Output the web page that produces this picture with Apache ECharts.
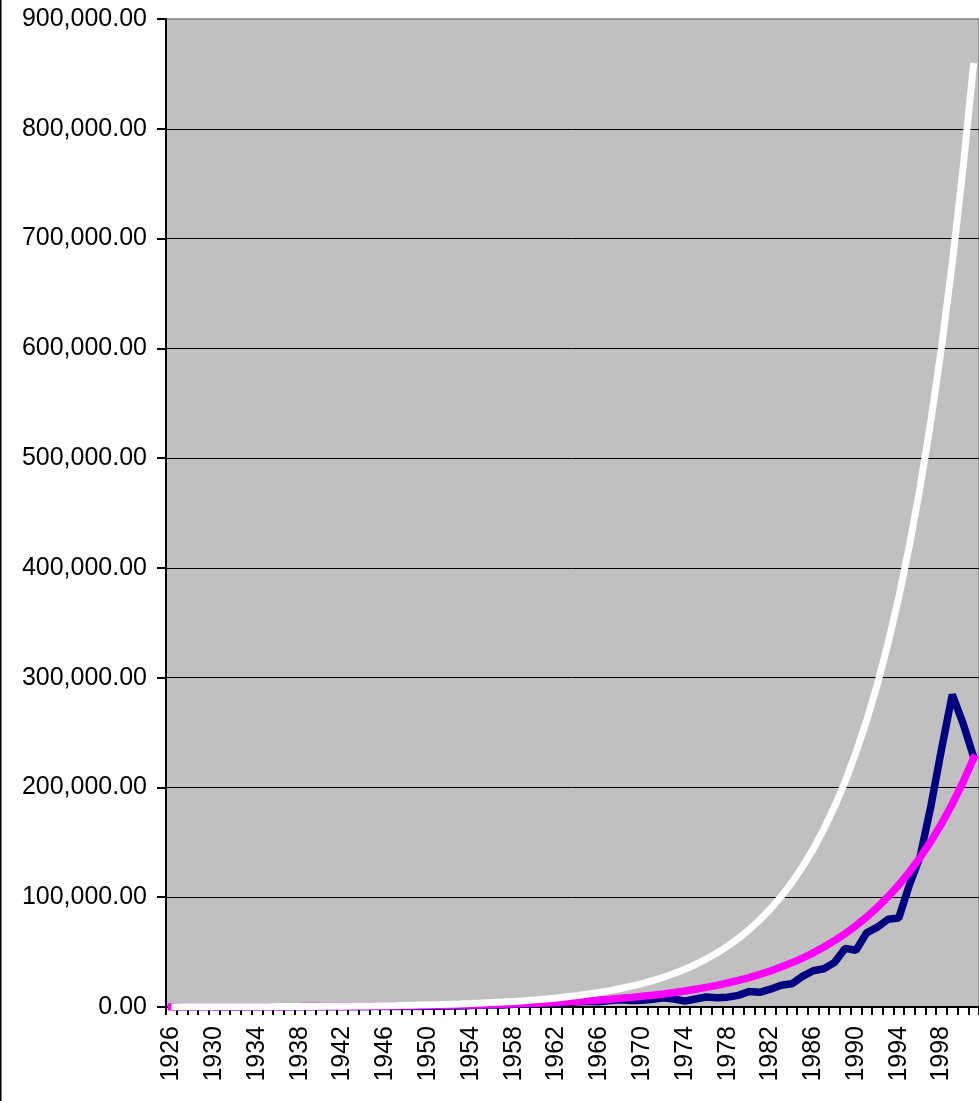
<!DOCTYPE html>
<html>
<head>
<meta charset="utf-8">
<script src="https://cdn.jsdelivr.net/npm/echarts@6/dist/echarts.min.js"></script>
<style>
  html, body { margin: 0; padding: 0; background: #fff; }
  #chart { width: 979px; height: 1101px; }
</style>
</head>
<body>
<div id="chart"></div>
<script>
// Categories: years 1926 .. 2001
const years = [];
for (let y = 1926; y <= 2001; y++) years.push(String(y));

// Actual growth of 100 (navy)
const actualValues = [
  112, 154, 220, 202, 152, 86, 79, 121, 120, 177,
  237, 154, 202, 201, 181, 160, 193, 243, 291, 397,
  365, 385, 407, 483, 636, 789, 934, 924, 1411, 1856,
  1978, 1765, 2530, 2832, 2846, 3611, 3295, 4047, 4714, 5301,
  4767, 5910, 6564, 6006, 6247, 7141, 8496, 7250, 5331, 7314,
  9058, 8408, 8959, 10611, 14051, 13362, 16222, 19875, 21120, 27912,
  33067, 34797, 40646, 53446, 51750, 67559, 72741, 80008, 81054, 111392,
  137095, 182833, 235089, 284563, 258652, 227913
];

// Smooth compounded line (magenta)
const compoundValues = [
  111, 123, 136, 150, 166, 184, 204, 226, 250, 276,
  306, 339, 375, 415, 460, 509, 563, 623, 690, 764,
  846, 936, 1036, 1147, 1270, 1406, 1556, 1723, 1907, 2111,
  2337, 2587, 2864, 3170, 3509, 3885, 4300, 4761, 5270, 5834,
  6458, 7149, 7914, 8761, 9698, 10736, 11885, 13157, 14565, 16123,
  17848, 19758, 21872, 24212, 26803, 29671, 32846, 36360, 40251, 44558,
  49326, 54604, 60446, 66914, 74074, 81999, 90773, 100486, 111238, 123140,
  136316, 150902, 167049, 184923, 204710, 226614
];

// Upper smooth line (white)
const upperValues = [
  113, 127, 143, 161, 182, 205, 230, 260, 292, 329,
  371, 418, 471, 531, 598, 674, 759, 855, 963, 1085,
  1222, 1377, 1551, 1748, 1969, 2218, 2499, 2815, 3172, 3573,
  4026, 4535, 5109, 5756, 6485, 7306, 8231, 9273, 10446, 11769,
  13258, 14937, 16828, 18958, 21358, 24062, 27108, 30540, 34406, 38761,
  43668, 49196, 55424, 62441, 70345, 79250, 89283, 100586, 113320, 127666,
  143828, 162037, 182551, 205662, 231699, 261032, 294079, 331309, 373253, 420507,
  473743, 533719, 601288, 677411, 763171, 859788
];

// Y-axis scale
const yMin = 0, yMax = 900000, yStep = 100000;

function fmt(v) {
  const s = Math.round(v).toString().replace(/\B(?=(\d{3})+(?!\d))/g, ',');
  return s + '.00';
}

const chart = echarts.init(document.getElementById('chart'), null, { renderer: 'canvas' });
const font = '"Liberation Sans", Arial, Helvetica, sans-serif';

chart.setOption({
  animation: false,
  backgroundColor: '#ffffff',
  graphic: [{
    type: 'rect',
    shape: { x: 0, y: 0, width: 1.5, height: 1101 },
    style: { fill: '#000' },
    silent: true
  }],
  grid: {
    left: 166, top: 19, right: -6, bottom: 94,
    show: true,
    backgroundColor: '#C0C0C0',
    borderColor: '#808080',
    borderWidth: 1.5,
    containLabel: false
  },
  xAxis: {
    type: 'category',
    data: years,
    boundaryGap: true,
    axisLine: { show: true, lineStyle: { color: '#000', width: 2 } },
    axisTick: { show: true, interval: 0, length: 8, lineStyle: { color: '#000', width: 2 } },
    axisLabel: {
      interval: 3,
      rotate: 90,
      margin: 19,
      color: '#000',
      fontFamily: font,
      fontSize: 25
    },
    splitLine: { show: false }
  },
  yAxis: {
    type: 'value',
    min: yMin, max: yMax, interval: yStep,
    axisLine: { show: true, lineStyle: { color: '#000', width: 2 } },
    axisTick: { show: true, length: 9, lineStyle: { color: '#000', width: 2 } },
    axisLabel: {
      margin: 19,
      color: '#000',
      fontFamily: font,
      fontSize: 25,
      formatter: fmt
    },
    splitLine: { show: true, showMinLine: false, showMaxLine: false, lineStyle: { color: '#000', width: 1 } }
  },
  series: [
    {
      name: 'Actual',
      type: 'line',
      data: actualValues,
      symbol: 'none',
      lineStyle: { color: '#000080', width: 7.5, join: 'bevel' },
      itemStyle: { color: '#000080' }
    },
    {
      name: 'Compound',
      type: 'line',
      data: compoundValues,
      symbol: 'none',
      lineStyle: { color: '#FF00FF', width: 7.5, join: 'bevel', cap: 'square' },
      itemStyle: { color: '#FF00FF' }
    },
    {
      name: 'Upper',
      type: 'line',
      data: upperValues,
      symbol: 'none',
      lineStyle: { color: '#FFFFFF', width: 7, join: 'bevel' },
      itemStyle: { color: '#FFFFFF' }
    }
  ]
});
</script>
</body>
</html>
